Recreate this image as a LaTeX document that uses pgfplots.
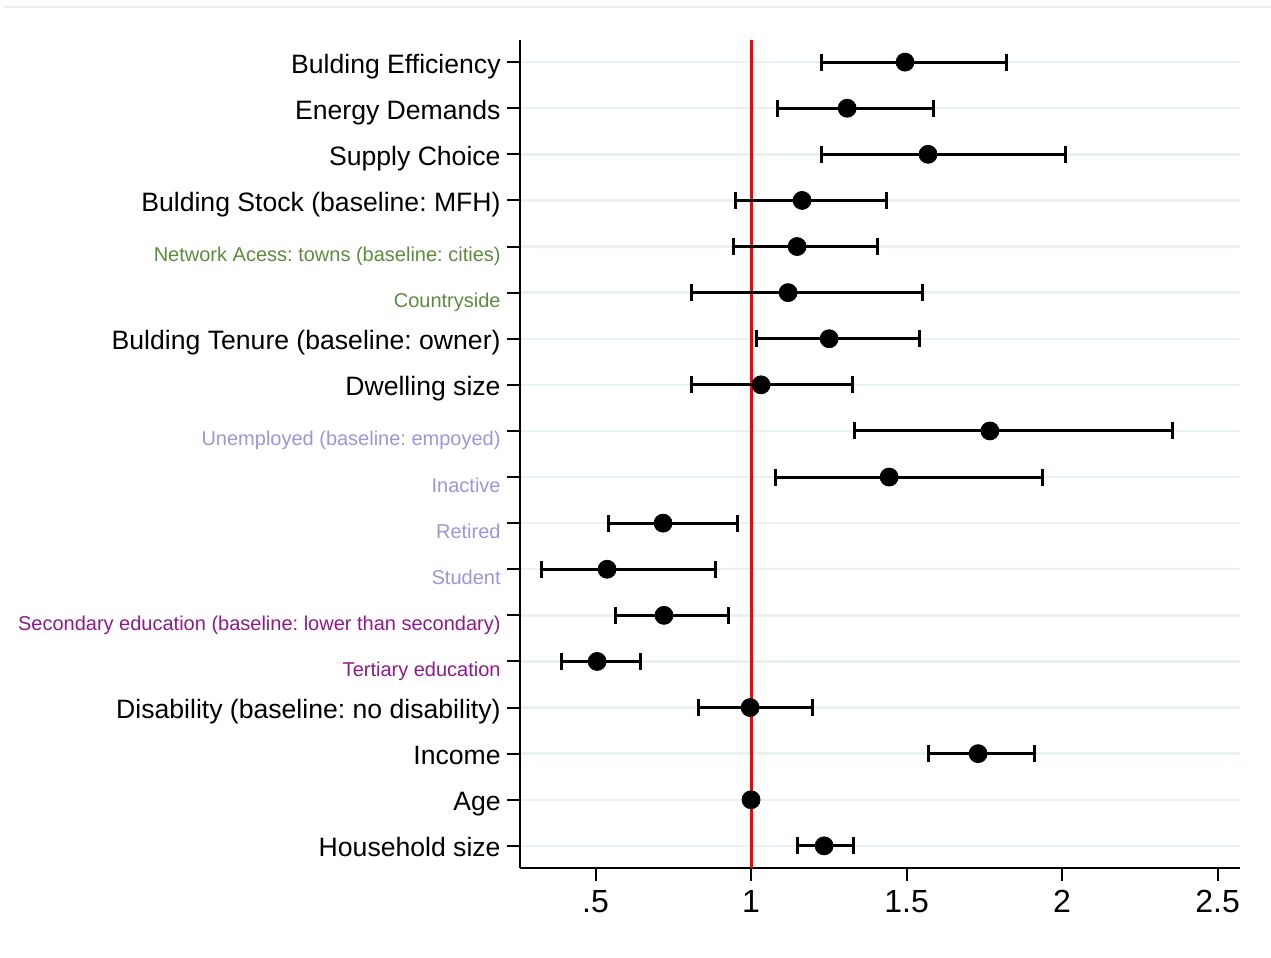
\documentclass[border=0pt]{standalone}
\usepackage{pgfplots}
\pgfplotsset{compat=1.18}
\usepackage{pgfplotstable}
\usepackage{fontspec}
\setmainfont{Liberation Sans}
\frenchspacing
\definecolor{netgreen}{HTML}{5E8A3E}
\definecolor{emppurple}{HTML}{9B96DA}
\definecolor{edupurple}{HTML}{8C1A8C}
\definecolor{gridc}{HTML}{EAF1F3}
\definecolor{framec}{HTML}{E9EEF2}
\newcommand{\sm}[2]{\raisebox{-7.5pt}{\fontsize{10}{12}\selectfont\color{#1}#2}}
\newcommand{\bg}[1]{\raisebox{-5.5pt}{#1}}
\pgfplotstableread{
y est lo hi
18 1.495 1.228 1.820
17 1.309 1.084 1.585
16 1.569 1.225 2.010
15 1.164 0.949 1.437
14 1.148 0.942 1.405
13 1.119 0.807 1.550
12 1.251 1.016 1.543
11 1.032 0.807 1.325
10 1.768 1.331 2.354
9 1.444 1.080 1.936
8 0.717 0.540 0.955
7 0.537 0.325 0.887
6 0.720 0.563 0.926
5 0.505 0.392 0.646
4 0.997 0.830 1.196
3 1.730 1.569 1.910
2 1.000 0.999 1.001
1 1.235 1.148 1.328
}\coefs
\begin{document}
\begin{tikzpicture}
\draw[framec, line width=1pt] (2pt,475.5pt) -- (635.5pt,475.5pt);
\begin{axis}[
  at={(260pt,45pt)}, anchor=south west,
  scale only axis, width=360pt, height=414pt,
  xmin=0.257, xmax=2.572, ymin=0.52, ymax=18.48,
  axis x line*=bottom, axis y line*=left,
  axis line style={line width=1pt, black},
  xtick={0.5,1,1.5,2,2.5}, xticklabels={.5,1,1.5,2,2.5},
  ytick={1,...,18},
  yticklabels={
    \bg{Household size},
    \bg{Age},
    \bg{Income},
    \bg{Disability (baseline: no disability)},
    \sm{edupurple}{Tertiary education},
    \sm{edupurple}{Secondary education (baseline: lower than secondary)},
    \sm{emppurple}{Student},
    \sm{emppurple}{Retired},
    \sm{emppurple}{Inactive},
    \sm{emppurple}{Unemployed (baseline: empoyed)},
    \bg{Dwelling size},
    \bg{Bulding Tenure (baseline: owner)},
    \sm{netgreen}{Countryside},
    \sm{netgreen}{Network Acess: towns (baseline: cities)},
    \bg{Bulding Stock (baseline: MFH)},
    \bg{Supply Choice},
    \bg{Energy Demands},
    \bg{Bulding Efficiency}},
  tick align=outside, major tick length=6.5pt,
  tick style={line width=1pt, black},
  ymajorgrids, major grid style={gridc, line width=1.2pt},
  yticklabel style={anchor=base east, inner sep=0pt, font=\fontsize{13.3}{16}\selectfont, xshift=-3pt},
  xticklabel style={anchor=north, inner sep=0pt, font=\fontsize{16}{19}\selectfont, yshift=-4.5pt},
  /pgf/number format/assume math mode=true,
  clip=false,
]
\addplot[red, line width=1.5pt, forget plot] coordinates {(1,0.52) (1,18.48)};
\addplot[draw=none, mark=none, forget plot,
  error bars/.cd, x dir=both, x explicit,
  error bar style={draw=black, line width=1.5pt},
  error mark options={draw=black, line width=1.5pt, mark size=4.25pt, rotate=90}]
  table[x=est, y=y, x error plus expr=\thisrow{hi}-\thisrow{est}, x error minus expr=\thisrow{est}-\thisrow{lo}] {\coefs};
\addplot[only marks, mark=*, mark size=4.5pt, black, fill=black] table[x=est, y=y] {\coefs};
\end{axis}
\pgfresetboundingbox
\path (0,0) rectangle (635.5pt,479pt);
\end{tikzpicture}
\end{document}
